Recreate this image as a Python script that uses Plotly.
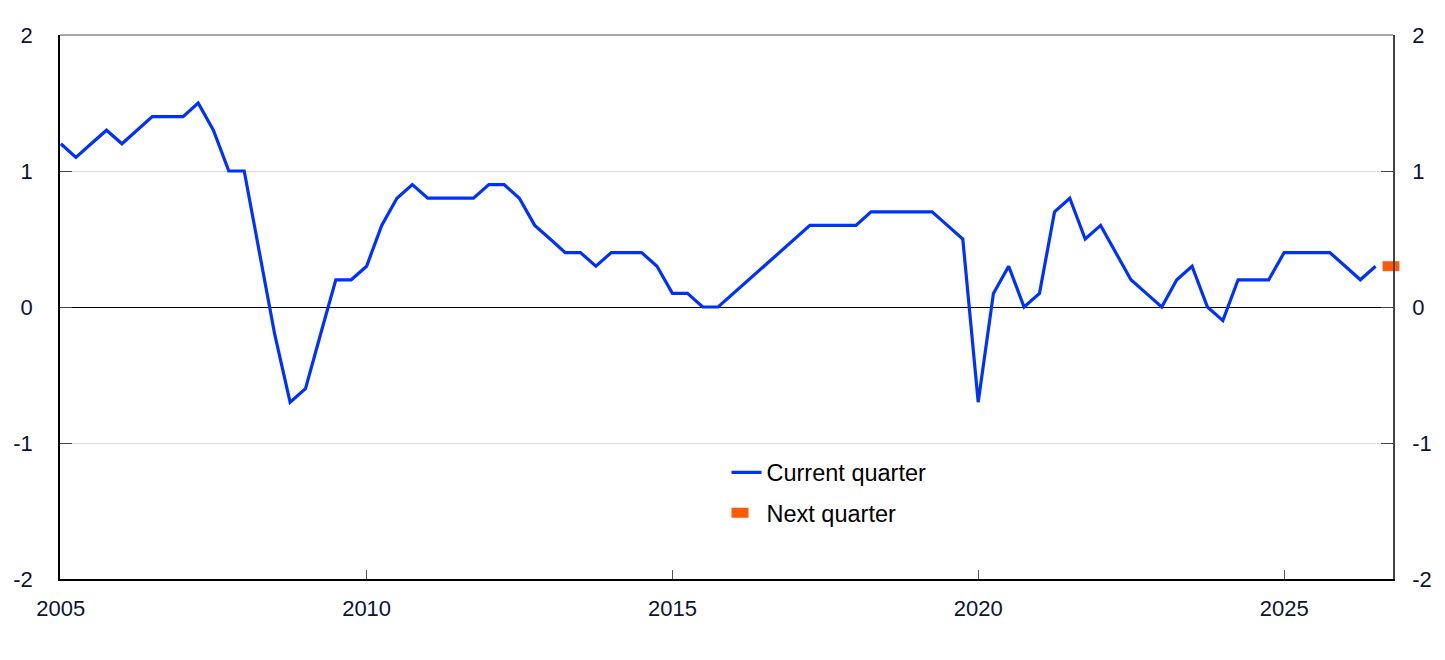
import plotly.graph_objects as go
import pandas as pd

start_quarter = "2005Q1"
end_quarter = "2026Q3"
next_quarter_label = "2026Q4"

current_quarter = [
    1.2, 1.1, 1.2, 1.3, 1.2, 1.3, 1.4, 1.4, 1.4, 1.5,
    1.3, 1.0, 1.0, 0.4, -0.2, -0.7, -0.6, -0.2, 0.2, 0.2,
    0.3, 0.6, 0.8, 0.9, 0.8, 0.8, 0.8, 0.8, 0.9, 0.9,
    0.8, 0.6, 0.5, 0.4, 0.4, 0.3, 0.4, 0.4, 0.4, 0.3,
    0.1, 0.1, 0.0, 0.0, 0.1, 0.2, 0.3, 0.4, 0.5, 0.6,
    0.6, 0.6, 0.6, 0.7, 0.7, 0.7, 0.7, 0.7, 0.6, 0.5,
    -0.7, 0.1, 0.3, 0.0, 0.1, 0.7, 0.8, 0.5, 0.6, 0.4,
    0.2, 0.1, 0.0, 0.2, 0.3, 0.0, -0.1, 0.2, 0.2, 0.2,
    0.4, 0.4, 0.4, 0.4, 0.3, 0.2, 0.3,
]
next_quarter = [0.3]

y_ticks = [-2, -1, 0, 1, 2]
y_tick_labels = ["-2", "-1", "0", "1", "2"]
x_tick_years = ["2005", "2010", "2015", "2020", "2025"]

quarters = pd.period_range(start_quarter, end_quarter, freq="Q").start_time
next_q = pd.PeriodIndex([next_quarter_label], freq="Q").start_time

BLUE = "#0032ff"
ORANGE = "#ff5a0a"
TEXT = "#0b1437"
FONT = "Liberation Sans, Arial, sans-serif"
FS = 22
LFS = 23.5

fig = go.Figure()
fig.add_trace(go.Scatter(
    x=quarters, y=current_quarter, mode="lines", name="Current quarter",
    line=dict(color=BLUE, width=3.2), legendgroup="a",
))
fig.add_trace(go.Scatter(
    x=next_q, y=next_quarter, mode="markers", name="Next quarter",
    marker=dict(symbol="line-ew", size=12, line=dict(color=ORANGE, width=10)),
    cliponaxis=False, yaxis="y2", showlegend=False,
))
# legend entry for the next-quarter marker (short thick dash)
fig.add_trace(go.Scatter(
    x=[None], y=[None], mode="lines", name="Next quarter",
    line=dict(color=ORANGE, width=10, dash="17px,60px"),
    legendgroup="b", showlegend=True,
))

axis_common = dict(automargin=False, tickfont=dict(size=FS, color=TEXT))

fig.update_layout(
    width=1437, height=652,
    margin=dict(l=52, r=52, t=27, b=81),
    paper_bgcolor="white", plot_bgcolor="white",
    font=dict(family=FONT, size=FS, color=TEXT),
    showlegend=True,
    legend=dict(
        x=0.500, y=0.158, xanchor="left", yanchor="middle",
        bgcolor="rgba(0,0,0,0)", font=dict(size=LFS, color="black"),
        tracegroupgap=7,
    ),
    xaxis=dict(
        type="date",
        range=["2004-12-27", "2026-10-13"],
        tickvals=[pd.Timestamp(y + "-01-01") for y in x_tick_years],
        ticktext=x_tick_years,
        ticks="inside", ticklen=9, tickcolor="#555555",
        showline=True, linecolor="black", linewidth=1.5,
        showgrid=False, zeroline=False,
        ticklabelstandoff=9,
        **axis_common,
    ),
    yaxis=dict(
        range=[-2, 2], tickvals=y_ticks, ticktext=y_tick_labels,
        ticks="inside", ticklen=12, tickcolor="#444444",
        showline=True, linecolor="black", linewidth=1.5,
        showgrid=True, gridcolor="#dcdcdc", gridwidth=1,
        zeroline=True, zerolinecolor="black", zerolinewidth=1,
        ticklabelstandoff=21,
        **axis_common,
    ),
    yaxis2=dict(
        overlaying="y", side="right", matches="y",
        range=[-2, 2], tickvals=y_ticks, ticktext=y_tick_labels,
        ticks="inside", ticklen=12, tickcolor="#444444",
        showline=True, linecolor="#444444", linewidth=1.5,
        showgrid=False, zeroline=False,
        ticklabelstandoff=13,
        **axis_common,
    ),
    shapes=[dict(type="line", xref="paper", yref="paper", x0=0, x1=1, y0=1, y1=1,
                 line=dict(color="#888888", width=1.5), layer="above")],
)

fig.write_html("out.html")
